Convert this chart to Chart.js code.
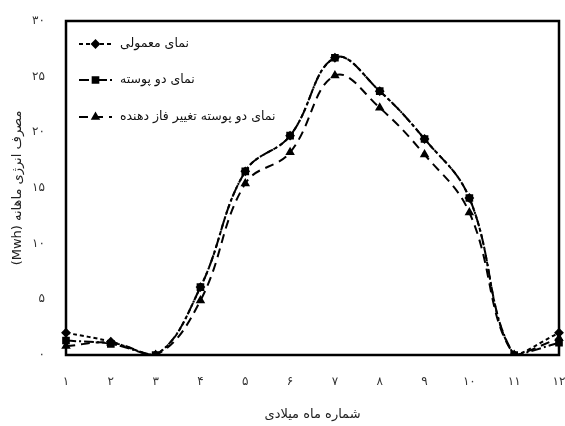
<!DOCTYPE html>
<html>
<head>
<meta charset="utf-8">
<script src="https://cdn.jsdelivr.net/npm/chart.js@4.4.1/dist/chart.umd.min.js"></script>
<style>
  html, body { margin: 0; padding: 0; background: #fff; }
  #wrap { width: 565px; height: 426px; }
</style>
</head>
<body>
<div id="wrap"><canvas id="c" width="565" height="426"></canvas></div>
<script>
// Months of the year (Gregorian), Persian numerals
const months = ['۱','۲','۳','۴','۵','۶','۷','۸','۹','۱۰','۱۱','۱۲'];

// Monthly energy use (MWh) for each façade type
const normalFacade   = [2.0, 1.2, 0, 6.1, 16.5, 19.7, 26.7, 23.7, 19.4, 14.1, 0, 2.0];
const doubleSkin     = [1.3, 1.0, 0, 6.1, 16.5, 19.7, 26.7, 23.7, 19.4, 14.1, 0, 1.1];
const doubleSkinPCM  = [0.8, 1.1, 0, 4.9, 15.4, 18.2, 25.1, 22.2, 18.0, 12.8, 0, 1.5];

const seriesNames = ['نمای معمولی', 'نمای دو پوسته', 'نمای دو پوسته تغییر فاز دهنده'];

const yTicks = [0, 5, 10, 15, 20, 25, 30];
const faDigits = '۰۱۲۳۴۵۶۷۸۹';
const toFa = n => String(n).replace(/\d/g, d => faDigits[d]);

const FONT = "'DejaVu Sans', sans-serif";

// Frame around the plotting area plus an in-plot legend
const framePlugin = {
  id: 'frameAndLegend',
  afterDatasetsDraw(chart) {
    const { ctx, chartArea: a } = chart;
    ctx.save();
    ctx.strokeStyle = '#000';
    ctx.lineWidth = 2.5;
    ctx.strokeRect(a.left, a.top, a.right - a.left, a.bottom - a.top);

    // legend
    const x0 = a.left + 13, x1 = a.left + 46;
    const rows = [a.top + 23, a.top + 59, a.top + 96];
    chart.data.datasets.forEach((ds, i) => {
      const y = rows[i];
      ctx.save();
      ctx.strokeStyle = '#000';
      ctx.lineWidth = ds.borderWidth;
      ctx.setLineDash(ds.borderDash);
      ctx.beginPath();
      ctx.moveTo(x0, y);
      ctx.lineTo(x1, y);
      ctx.stroke();
      ctx.setLineDash([]);
      Chart.helpers.drawPoint(ctx, {
        pointStyle: ds.pointStyle,
        radius: ds.pointRadius,
        rotation: 0,
        borderWidth: 1
      }, (x0 + x1) / 2, y);
      ctx.fillStyle = '#000';
      ctx.fill();
      ctx.restore();
      ctx.fillStyle = '#111';
      ctx.font = '12.5px ' + FONT;
      ctx.textBaseline = 'middle';
      ctx.direction = 'rtl';
      ctx.textAlign = 'right';
      const w = ctx.measureText(ds.label).width;
      ctx.fillText(ds.label, x1 + 8 + w, y);
    });
    ctx.restore();
  }
};

new Chart(document.getElementById('c'), {
  type: 'line',
  data: {
    labels: months,
    datasets: [
      {
        label: seriesNames[0],
        data: normalFacade,
        borderColor: '#000',
        backgroundColor: '#000',
        borderWidth: 2,
        borderDash: [4, 3],
        pointStyle: 'rectRot',
        pointRadius: 3.5,
        tension: 0.4
      },
      {
        label: seriesNames[1],
        data: doubleSkin,
        borderColor: '#000',
        backgroundColor: '#000',
        borderWidth: 2,
        borderDash: [10, 3, 2, 3],
        pointStyle: 'rect',
        pointRadius: 4,
        tension: 0.4
      },
      {
        label: seriesNames[2],
        data: doubleSkinPCM,
        borderColor: '#000',
        backgroundColor: '#000',
        borderWidth: 2,
        borderDash: [9, 6],
        pointStyle: 'triangle',
        pointRadius: 3.5,
        tension: 0.4
      }
    ]
  },
  options: {
    responsive: false,
    animation: false,
    devicePixelRatio: 1,
    layout: { padding: { top: 21, right: 5, left: 0, bottom: 0 } },
    plugins: {
      legend: { display: false },
      tooltip: { enabled: false }
    },
    scales: {
      x: {
        offset: false,
        grid: { display: false, drawTicks: false },
        border: { display: false },
        ticks: {
          color: '#333',
          font: { family: FONT, size: 12 },
          padding: 20,
          maxRotation: 0,
          autoSkip: false
        },
        title: {
          display: true,
          text: 'شماره ماه میلادی',
          color: '#222',
          font: { family: FONT, size: 13 },
          padding: { top: 8 }
        },
        afterFit(s) { s.height = 71; s.paddingLeft = 0; s.paddingRight = 0; }
      },
      y: {
        min: 0,
        max: 30,
        afterBuildTicks(s) { s.ticks = yTicks.map(v => ({ value: v })); },
        grid: { display: false, drawTicks: false },
        border: { display: false },
        ticks: {
          color: '#333',
          font: { family: FONT, size: 12 },
          padding: 21,
          callback: v => toFa(v)
        },
        title: {
          display: true,
          text: '\u2067مصرف انرژی ماهانه (Mwh)\u2069',
          color: '#222',
          font: { family: FONT, size: 13 },
          padding: { top: 10, bottom: 2 }
        },
        afterFit(s) { s.width = 66; s.paddingTop = 0; s.paddingBottom = 0; }
      }
    }
  },
  plugins: [framePlugin]
});
</script>
</body>
</html>
